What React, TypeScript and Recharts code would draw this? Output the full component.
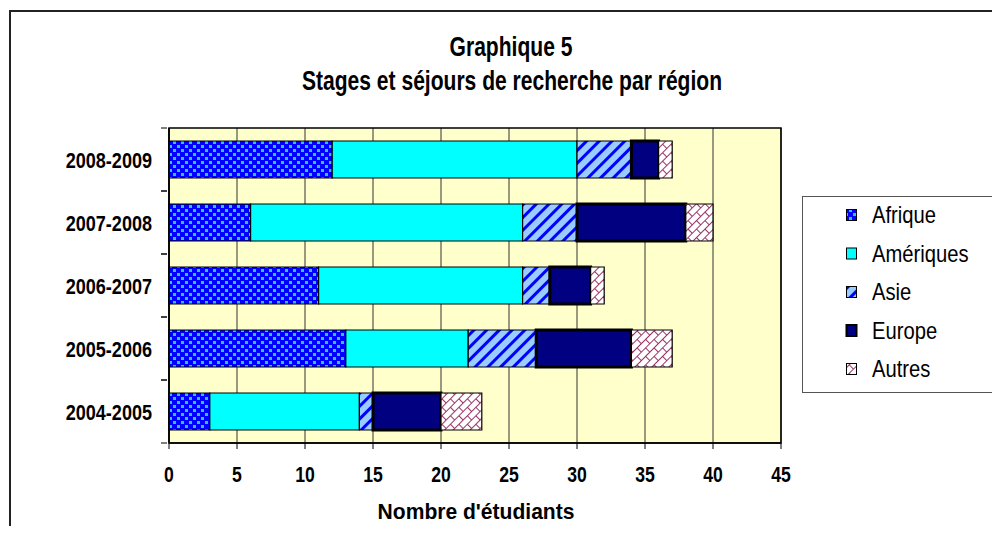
import React from 'react';
import { BarChart, Bar, XAxis, YAxis, CartesianGrid, ReferenceArea } from 'recharts';

const categories = ['2004-2005', '2005-2006', '2006-2007', '2007-2008', '2008-2009'];
const afrique = [3, 13, 11, 6, 12];
const ameriques = [11, 9, 15, 20, 18];
const asie = [1, 5, 2, 4, 4];
const europe = [5, 7, 3, 8, 2];
const autres = [3, 3, 1, 2, 1];
const xTicks = [0, 5, 10, 15, 20, 25, 30, 35, 40, 45];

const seriesNames = ['Afrique', 'Amériques', 'Asie', 'Europe', 'Autres'];

const data = categories.map((c, i) => ({
  cat: c,
  Afrique: afrique[i],
  Amériques: ameriques[i],
  Asie: asie[i],
  Europe: europe[i],
  Autres: autres[i],
}));

const FONT = '"Liberation Sans", Arial, sans-serif';

const fills: Record<string, string> = {
  Afrique: 'url(#pAfrique)',
  Amériques: '#00FFFF',
  Asie: 'url(#pAsie)',
  Europe: '#000080',
  Autres: 'url(#pAutres)',
};

const Patterns = () => (
  <defs>
    <pattern id="pAfrique" width="8" height="8" patternUnits="userSpaceOnUse">
      <rect width="8" height="8" fill="#0000FF" />
      <rect x="1" y="1" width="3" height="3" fill="#33BBFF" />
      <rect x="5" y="5" width="3" height="3" fill="#33BBFF" />
    </pattern>
    <pattern id="pAsie" width="9" height="9" patternUnits="userSpaceOnUse" patternTransform="rotate(45)">
      <rect width="9" height="9" fill="#99CCFF" />
      <rect width="3" height="9" fill="#0000FF" />
    </pattern>
    <pattern id="pAutres" width="12" height="12" patternUnits="userSpaceOnUse" patternTransform="rotate(-45)">
      <rect width="12" height="12" fill="#FFFFFF" />
      <path d="M0,0.5 H12 M0,6.5 H12 M0.5,0 V6 M6.5,6 V12" stroke="#993366" strokeWidth="1" fill="none" />
    </pattern>
  </defs>
);

const BAND = 63;

const YTick = (props: any) => {
  const { x, y, payload } = props;
  return (
    <g>
      <text
        transform={`translate(${x - 15},${y + 8}) scale(0.84,1)`}
        textAnchor="end"
        fontFamily={FONT}
        fontWeight="bold"
        fontSize={21.5}
        fill="#000"
      >
        {payload.value}
      </text>
      <line x1={x - 6} x2={x} y1={y - BAND / 2} y2={y - BAND / 2} stroke="#000" strokeWidth={1} />
      <line x1={x - 6} x2={x} y1={y + BAND / 2} y2={y + BAND / 2} stroke="#000" strokeWidth={1} />
    </g>
  );
};

const XTick = (props: any) => {
  const { x, y, payload } = props;
  return (
    <text
      transform={`translate(${x},${y + 33}) scale(0.8,1)`}
      textAnchor="middle"
      fontFamily={FONT}
      fontWeight="bold"
      fontSize={22}
      fill="#000"
    >
      {payload.value}
    </text>
  );
};

const LegendBox = () => (
  <svg style={{ position: 'absolute', left: 0, top: 0 }} width={1000} height={534}>
    <rect x={802.5} y={196.5} width={195} height={196} fill="#fff" stroke="#555" strokeWidth={1} />
    {seriesNames.map((n, i) => {
      const cy = 215 + i * 38.5;
      return (
        <g key={n}>
          <rect x={846.5} y={cy - 5.5} width={10} height={11} fill={fills[n]} stroke="#000" strokeWidth={n === 'Europe' ? 2 : 1} />
          <text
            transform={`translate(872,${cy + 8}) scale(0.86,1)`}
            fontFamily={FONT}
            fontSize={23.5}
            fill="#000"
          >
            {n}
          </text>
        </g>
      );
    })}
  </svg>
);

const Titles = () => (
  <svg style={{ position: 'absolute', left: 0, top: 0 }} width={1000} height={534}>
    <text transform="translate(511,56) scale(0.78,1)" textAnchor="middle" fontFamily={FONT} fontWeight="bold" fontSize={27}>
      Graphique 5
    </text>
    <text transform="translate(512,90) scale(0.78,1)" textAnchor="middle" fontFamily={FONT} fontWeight="bold" fontSize={27}>
      Stages et séjours de recherche par région
    </text>
    <text transform="translate(476,519) scale(0.98,1)" textAnchor="middle" fontFamily={FONT} fontWeight="bold" fontSize={21.5}>
      Nombre d'étudiants
    </text>
  </svg>
);

export default function App() {
  return (
    <div style={{ position: 'relative', width: 1000, height: 534, margin: -8, overflow: 'hidden', background: '#fff' }}>
      <div style={{ position: 'absolute', left: 9, top: 10, width: 1100, height: 700, border: '2px solid #222', boxSizing: 'border-box' }} />
      <div style={{ position: 'absolute', left: 0, top: 0 }}>
        <BarChart
          width={1000}
          height={534}
          data={data}
          layout="vertical"
          margin={{ top: 128, right: 219, bottom: 61, left: 9 }}
          barSize={37}
        >
          <Patterns />
          <CartesianGrid horizontal={false} vertical={true} stroke="#333" fill="#FFFFCC" fillOpacity={1} />
          <ReferenceArea x1={0} x2={45} fill="none" stroke="#000" strokeWidth={1.5} ifOverflow="visible" />
          <XAxis
            type="number"
            domain={[0, 45]}
            ticks={xTicks}
            interval={0}
            height={30}
            axisLine={{ stroke: '#000', strokeWidth: 1.5 }}
            tickLine={{ stroke: '#000' }}
            tickSize={6}
            tickMargin={0}
            tick={<XTick />}
          />
          <YAxis
            type="category"
            dataKey="cat"
            reversed
            width={160}
            axisLine={{ stroke: '#000', strokeWidth: 1.5 }}
            tickLine={false}
            tickSize={0}
            tick={<YTick />}
            interval={0}
          />
          {seriesNames.map((n) => (
            <Bar
              key={n}
              dataKey={n}
              stackId="a"
              fill={fills[n]}
              stroke="#000"
              strokeWidth={n === 'Europe' ? 3 : 1.2}
              isAnimationActive={false}
            />
          ))}
        </BarChart>
      </div>
      <Titles />
      <LegendBox />
    </div>
  );
}
